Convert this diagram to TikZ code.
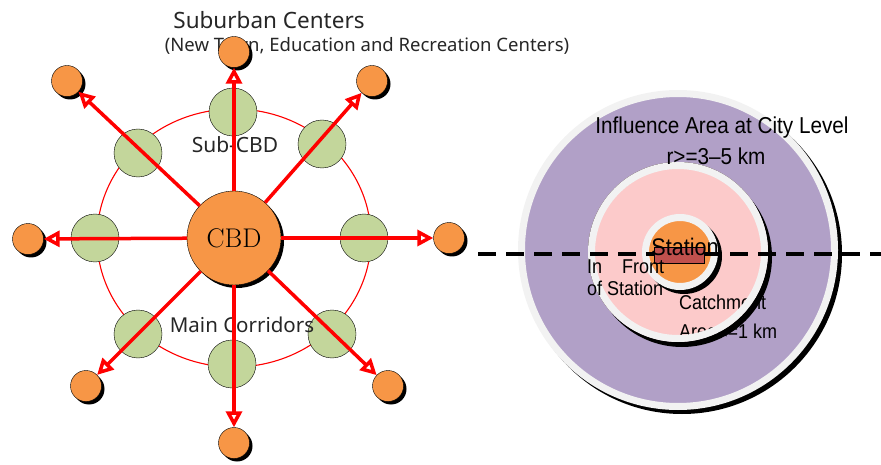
\documentclass[tikz,border=0pt]{standalone}
\usepackage{fontspec}
\newfontfamily\gothic{Noto Sans}
\newfontfamily\narrowsans[FakeStretch=0.9]{Liberation Sans}
\usetikzlibrary{arrows.meta,shadows}

\definecolor{cbdorange}{HTML}{F79646}
\definecolor{subgreen}{HTML}{C3D69B}
\definecolor{infpurple}{HTML}{B1A0C7}
\definecolor{catchpink}{HTML}{FCCACA}
\definecolor{ringgray}{HTML}{F2F2F2}
\definecolor{stationred}{HTML}{C0504D}

\tikzstyle{cbd} =[shape=circle,draw,fill=cbdorange,
minimum size=94pt,inner sep=0pt,font=\fontsize{27}{30}\selectfont,
drop shadow={shadow xshift=3pt,shadow yshift=-3pt,fill=black,opacity=1}]
\tikzstyle{subcbd} =[shape=circle,draw,fill=subgreen,
minimum size=48pt,inner sep=0pt]
\tikzstyle{suburb} =[shape=circle,draw,fill=cbdorange,
minimum size=31pt,inner sep=0pt,
drop shadow={shadow xshift=3pt,shadow yshift=-3pt,fill=black,opacity=1}]
\tikzstyle{corridor} =[red,line width=3.5pt,
-{Triangle[open,length=16pt,width=16pt]}]
\tikzstyle{gothiclabel} =[font=\gothic\fontsize{21}{24}\selectfont,
text=black!85,inner sep=0pt]
\tikzstyle{arealabel} =[font=\narrowsans\fontsize{20}{22}\selectfont,
inner sep=0pt]

\begin{document}
\begin{tikzpicture}[x=1pt,y=-1pt]
\useasboundingbox (0,0) rectangle (881,465);

% left: CBD and its corridors
\draw[red,line width=1.1pt] (234,238) ellipse[x radius=137pt,y radius=129pt];

\node[subcbd] (scN) at (233,112) {};
\node[subcbd] (scNE) at (322,144) {};
\node[subcbd] (scE) at (364,238) {};
\node[subcbd] (scSE) at (332,334) {};
\node[subcbd] (scS) at (232,364) {};
\node[subcbd] (scSW) at (138,334) {};
\node[subcbd] (scW) at (95,238) {};
\node[subcbd] (scNW) at (138,153) {};

\node[gothiclabel,font=\gothic\fontsize{22.5}{25}\selectfont] (title) at (269,20) {Suburban Centers};
\node[gothiclabel,font=\gothic\fontsize{18.5}{21}\selectfont] (subtitle) at (367,46)
{(New Town, Education and Recreation Centers)};
\node[gothiclabel] (sublabel) at (235,145) {Sub-CBD};
\node[gothiclabel,font=\gothic\fontsize{20.5}{23}\selectfont] (corrlabel) at (242,325) {Main Corridors};

\node[cbd] (cbd) at (234,238) {CBD};

\node[suburb] (suN) at (234,52) {};
\node[suburb] (suNE) at (372,81) {};
\node[suburb] (suE) at (449,238) {};
\node[suburb] (suSE) at (388,386) {};
\node[suburb] (suS) at (234,443) {};
\node[suburb] (suSW) at (86,386) {};
\node[suburb] (suW) at (28,239) {};
\node[suburb] (suNW) at (67,81) {};

\draw[corridor] (cbd) -- (suN);
\draw[corridor] (cbd) -- (suNE);
\draw[corridor] (cbd) -- (suE);
\draw[corridor] (cbd) -- (suSE);
\draw[corridor] (cbd) -- (suS);
\draw[corridor] (cbd) -- (suSW);
\draw[corridor] (cbd) -- (suW);
\draw[corridor] (cbd) -- (suNW);

% right: station areas
\fill[black] (682,254) circle[radius=160pt];
\filldraw[fill=infpurple,draw=ringgray,line width=7pt] (678,250) circle[radius=156.5pt];

\fill[catchpink] (678,252) circle[radius=90pt];
\node[arealabel,anchor=west] (catch) at (679,302) {Catchment};
\node[arealabel,anchor=west] (catcharea) at (679,331) {Area<=1 km};
\fill[black,even odd rule] (682,257) circle[radius=90pt] (678,252) circle[radius=90pt];
\draw[ringgray,line width=7pt] (678,252) circle[radius=86.5pt];

\fill[black] (684,256) circle[radius=38pt];
\filldraw[fill=cbdorange,draw=ringgray,line width=7pt] (680,252) circle[radius=34.5pt];

\coordinate (cut west) at (478,254);
\coordinate (cut east) at (881,254);
\draw[line width=4pt,dash pattern=on 18pt off 10pt] (cut west) -- (cut east);

\node[draw,fill=stationred,minimum width=50pt,minimum height=16pt,inner sep=0pt] (platform) at (679,255) {};
\node[arealabel,font=\narrowsans\fontsize{24}{26}\selectfont] (station) at (685,247) {Station};

\node[arealabel,anchor=west] (front) at (587,267) {In\hspace{20pt}Front};
\node[arealabel,anchor=west] (front2) at (587,288) {of Station};

\node[arealabel,font=\narrowsans\fontsize{23}{25}\selectfont] (influence) at (722,128) {Influence Area at City Level};
\node[arealabel,font=\narrowsans\fontsize{23}{25}\selectfont] (radius) at (716,156) {r>=3–5 km};
\end{tikzpicture}
\end{document}
